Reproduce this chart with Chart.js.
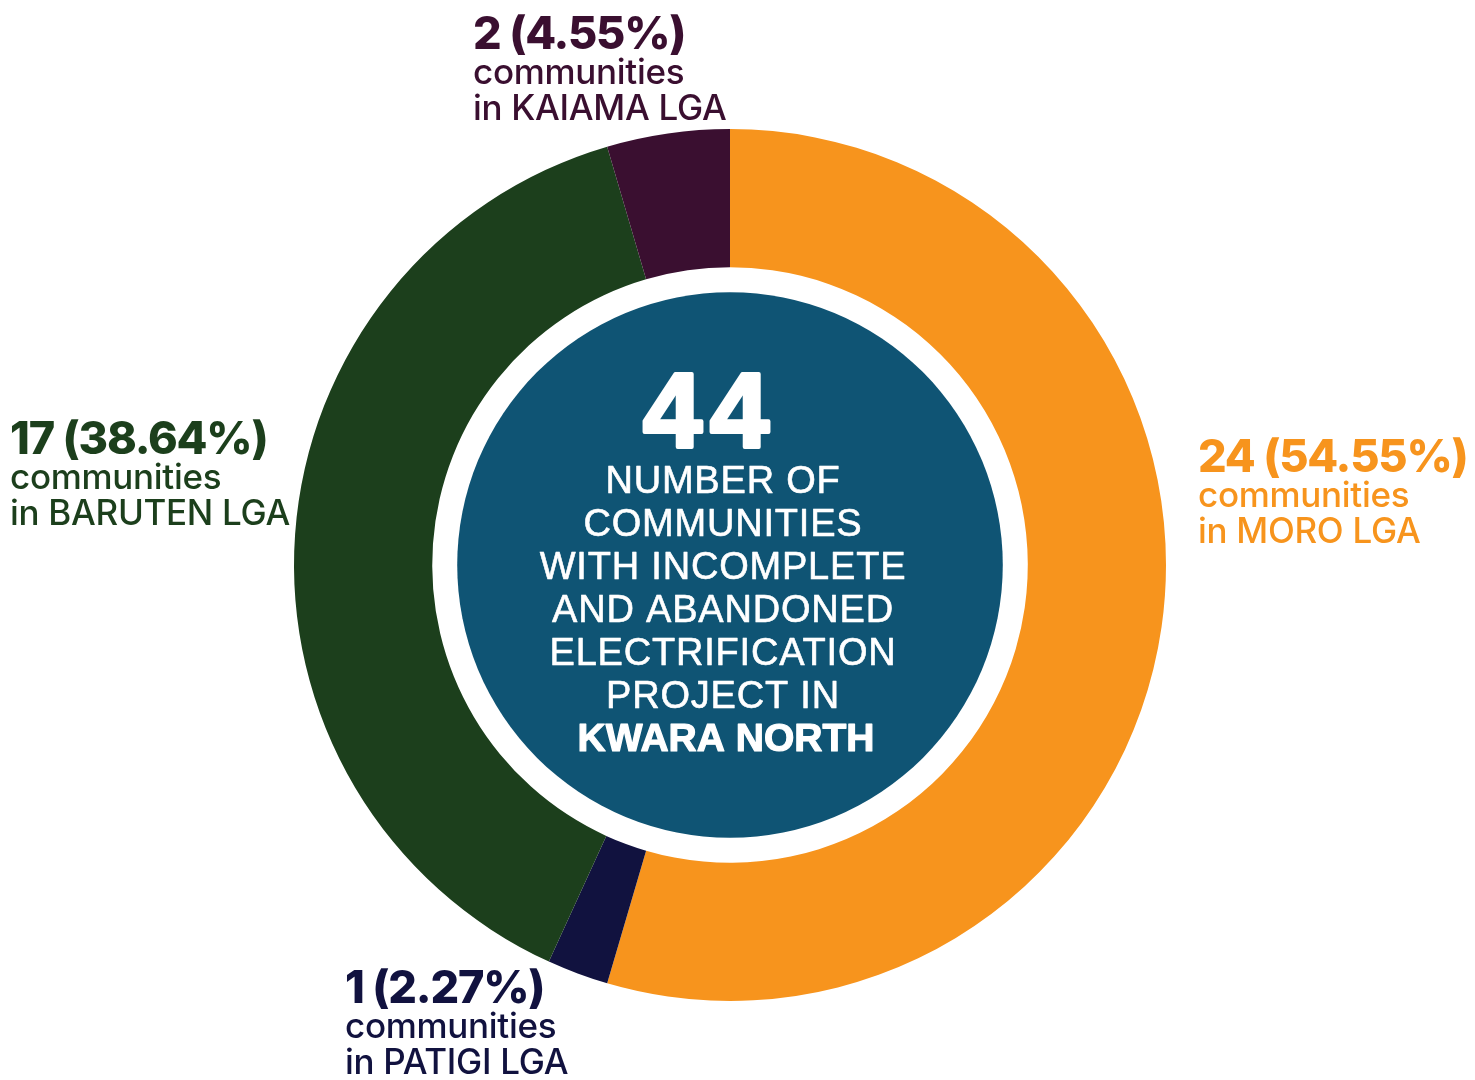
<!DOCTYPE html>
<html>
<head>
<meta charset="utf-8">
<script src="https://cdn.jsdelivr.net/npm/chart.js@4.4.1/dist/chart.umd.min.js"></script>
<style>
  html, body { margin: 0; padding: 0; background: #fff; }
  #wrap { width: 1475px; height: 1080px; }
</style>
</head>
<body>
<div id="wrap"><canvas id="donut" width="1475" height="1080"></canvas></div>
<script>
const lgas = ['MORO', 'PATIGI', 'BARUTEN', 'KAIAMA'];
const communities = [24, 1, 17, 2];
const segColors = ['#f7941d', '#11123f', '#1c3f1c', '#3a0f30'];
const centerLines = ['NUMBER OF', 'COMMUNITIES', 'WITH INCOMPLETE', 'AND ABANDONED', 'ELECTRIFICATION', 'PROJECT IN'];
const centerBold = 'KWARA NORTH';

// left edge + first baseline of each outside label block
const labelSpots = [
  { x: 1198, y: 472 },
  { x: 345, y: 1003 },
  { x: 10, y: 454 },
  { x: 473, y: 49 }
];

const total = communities.reduce((a, b) => a + b, 0);

const centerDisc = {
  id: 'centerDisc',
  afterDatasetsDraw(chart) {
    const arc = chart.getDatasetMeta(0).data[0];
    const { x, y, innerRadius } = arc.getProps(['x', 'y', 'innerRadius'], true);
    const ctx = chart.ctx;
    ctx.save();
    ctx.fillStyle = '#0f5474';
    ctx.beginPath();
    ctx.arc(x, y, innerRadius - 25, 0, Math.PI * 2);
    ctx.fill();

    ctx.fillStyle = '#fff';
    ctx.strokeStyle = '#fff';
    ctx.lineJoin = 'round';
    ctx.textAlign = 'center';
    ctx.textBaseline = 'alphabetic';

    // big total, drawn a little heavier with a stroke
    ctx.font = 'bold 106px "Liberation Sans", Arial, sans-serif';
    ctx.letterSpacing = '8px';
    ctx.lineWidth = 4;
    ctx.fillText(String(total), x - 20, y - 118);
    ctx.strokeText(String(total), x - 20, y - 118);

    ctx.font = '38px "Liberation Sans", Arial, sans-serif';
    ctx.letterSpacing = '0.8px';
    ctx.lineWidth = 0.6;
    centerLines.forEach((line, i) => {
      ctx.fillText(line, x - 7, y - 72 + i * 43);
      ctx.strokeText(line, x - 7, y - 72 + i * 43);
    });

    ctx.font = 'bold 39px "Liberation Sans", Arial, sans-serif';
    ctx.letterSpacing = '0px';
    ctx.lineWidth = 1.2;
    ctx.fillText(centerBold, x - 4, y - 72 + centerLines.length * 43);
    ctx.strokeText(centerBold, x - 4, y - 72 + centerLines.length * 43);
    ctx.restore();
  }
};

const outsideLabels = {
  id: 'outsideLabels',
  afterDraw(chart) {
    const ctx = chart.ctx;
    ctx.save();
    ctx.textAlign = 'left';
    ctx.textBaseline = 'alphabetic';
    communities.forEach((v, i) => {
      const pos = labelSpots[i];
      const pct = (v / total * 100).toFixed(2);
      ctx.fillStyle = segColors[i];
      ctx.font = '800 45px Inter, "Liberation Sans", sans-serif';
      ctx.letterSpacing = '-1.2px';
      ctx.fillText(`${v} (${pct}%)`, pos.x, pos.y);
      ctx.font = '500 35px Inter, "Liberation Sans", sans-serif';
      ctx.letterSpacing = '-0.3px';
      ctx.fillText('communities', pos.x, pos.y + 35);
      ctx.fillText(`in ${lgas[i]} LGA`, pos.x, pos.y + 71);
    });
    ctx.restore();
  }
};

new Chart(document.getElementById('donut'), {
  type: 'doughnut',
  data: {
    labels: lgas,
    datasets: [{
      data: communities,
      backgroundColor: segColors,
      borderWidth: 0,
      hoverOffset: 0
    }]
  },
  options: {
    responsive: false,
    animation: false,
    cutout: '68.3%',
    layout: { padding: { left: 294, right: 309, top: 129, bottom: 79 } },
    plugins: {
      legend: { display: false },
      tooltip: { enabled: false }
    }
  },
  plugins: [centerDisc, outsideLabels]
});
</script>
</body>
</html>
